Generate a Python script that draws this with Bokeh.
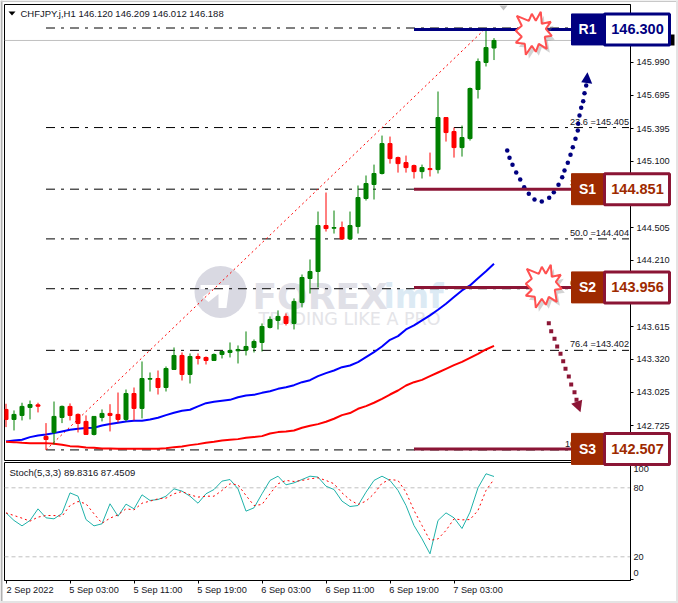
"""CHFJPY H1 chart with fibonacci levels, support/resistance tags and stochastic."""

from bokeh.core.properties import value
from bokeh.embed import file_html
from bokeh.layouts import column
from bokeh.models import (
    FixedTicker,
    Label,
    NumeralTickFormatter,
    PolyAnnotation,
    Range1d,
    Span,
)
from bokeh.plotting import figure
from bokeh.resources import INLINE

# one hourly candle per row position, 2 Sep 2022 onwards
opens = [
    142.871, 142.781, 142.817, 142.889, 142.912, 142.628, 142.664, 142.799, 142.898, 142.826,
    142.763, 142.646, 142.799, 142.835, 142.826, 142.781, 143.014, 142.880, 143.143, 143.149,
    143.068, 143.230, 143.356, 143.185, 143.347, 143.338, 143.311, 143.365, 143.383, 143.398,
    143.404, 143.428, 143.473, 143.608, 143.671, 143.707, 143.644, 143.833, 144.048, 144.111,
    144.524, 144.500, 144.506, 144.404, 144.515, 144.767, 144.893, 144.992, 145.261, 145.135,
    145.090, 145.063, 145.009, 145.036, 145.027, 145.495, 145.369, 145.225, 145.306, 145.747,
    145.990, 146.120,
]
highs = [
    142.922, 142.862, 142.931, 142.951, 142.931, 142.748, 142.942, 142.906, 142.925, 142.835,
    142.817, 142.808, 142.871, 142.918, 143.023, 143.050, 143.068, 143.302, 143.203, 143.221,
    143.257, 143.428, 143.383, 143.374, 143.374, 143.347, 143.374, 143.392, 143.473, 143.446,
    143.572, 143.500, 143.644, 143.707, 143.761, 143.734, 143.869, 144.084, 144.219, 144.650,
    144.821, 144.659, 144.560, 144.650, 144.884, 144.974, 145.072, 145.333, 145.324, 145.144,
    145.153, 145.072, 145.072, 145.180, 145.729, 145.495, 145.405, 145.423, 145.765, 146.026,
    146.277, 146.209,
]
lows = [
    142.712, 142.682, 142.772, 142.781, 142.844, 142.507, 142.556, 142.748, 142.772, 142.664,
    142.646, 142.637, 142.763, 142.673, 142.754, 142.763, 142.772, 142.790, 143.032, 143.005,
    143.032, 143.230, 143.131, 143.104, 143.275, 143.275, 143.311, 143.329, 143.338, 143.284,
    143.356, 143.383, 143.392, 143.599, 143.590, 143.626, 143.590, 143.788, 143.913, 143.967,
    144.470, 144.452, 144.395, 144.395, 144.452, 144.749, 144.758, 144.983, 145.081, 145.000,
    145.000, 144.947, 144.947, 144.965, 144.992, 145.279, 145.135, 145.144, 145.288, 145.666,
    145.954, 146.012,
]
closes = [
    142.781, 142.826, 142.898, 142.915, 142.900, 142.601, 142.808, 142.898, 142.817, 142.745,
    142.646, 142.808, 142.835, 142.817, 142.781, 143.014, 142.880, 143.149, 143.149, 143.068,
    143.239, 143.356, 143.185, 143.347, 143.329, 143.311, 143.365, 143.392, 143.401, 143.410,
    143.437, 143.482, 143.617, 143.680, 143.707, 143.644, 143.842, 144.057, 144.111, 144.524,
    144.497, 144.506, 144.404, 144.524, 144.776, 144.902, 144.992, 145.261, 145.126, 145.081,
    145.045, 145.009, 145.045, 145.027, 145.495, 145.360, 145.225, 145.315, 145.756, 145.999,
    146.124, 146.188,
]
ma_fast = [
    142.583, 142.592, 142.598, 142.622, 142.637, 142.646, 142.658, 142.673, 142.688, 142.697,
    142.703, 142.706, 142.727, 142.739, 142.751, 142.763, 142.769, 142.769, 142.781, 142.796,
    142.820, 142.841, 142.859, 142.868, 142.898, 142.927, 142.939, 142.948, 142.957, 142.981,
    142.996, 143.002, 143.020, 143.035, 143.056, 143.071, 143.089, 143.116, 143.134, 143.170,
    143.197, 143.221, 143.251, 143.266, 143.296, 143.341, 143.386, 143.437, 143.497, 143.530,
    143.590, 143.626, 143.671, 143.716, 143.767, 143.821, 143.881, 143.941, 143.986, 144.051,
    144.114, 144.180,
]
ma_slow = [
    142.580, 142.577, 142.571, 142.568, 142.568, 142.568, 142.562, 142.553, 142.541, 142.538,
    142.529, 142.526, 142.520, 142.520, 142.517, 142.517, 142.517, 142.517, 142.517, 142.517,
    142.523, 142.532, 142.538, 142.550, 142.559, 142.571, 142.580, 142.592, 142.598, 142.604,
    142.616, 142.622, 142.631, 142.655, 142.667, 142.673, 142.682, 142.706, 142.724, 142.739,
    142.760, 142.787, 142.820, 142.838, 142.877, 142.901, 142.931, 142.966, 143.005, 143.041,
    143.086, 143.116, 143.137, 143.170, 143.203, 143.236, 143.269, 143.299, 143.335, 143.371,
    143.410, 143.443,
]
stoch_k = [
    58.2, 51.6, 46.9, 51.6, 61.7, 53.9, 53.0, 57.7, 75.6, 72.7,
    52.4, 46.9, 48.7, 66.1, 55.3, 65.8, 61.7, 73.9, 69.0, 69.8,
    72.7, 79.1, 77.1, 72.7, 66.6, 74.8, 78.5, 85.8, 87.2, 79.1,
    59.7, 62.6, 74.8, 86.4, 90.1, 82.6, 84.3, 87.2, 90.1, 89.3,
    81.4, 78.5, 68.4, 63.7, 64.6, 76.2, 86.4, 90.1, 86.4, 77.7,
    64.6, 47.2, 35.6, 22.6, 51.6, 58.2, 53.9, 44.6, 58.8, 80.0,
    92.2, 89.83,
]
stoch_d = [
    58.2, 55.9, 53.6, 51.0, 54.5, 55.9, 55.9, 55.3, 64.6, 68.1,
    66.1, 57.4, 49.2, 53.6, 56.5, 61.7, 60.8, 66.6, 68.4, 70.4,
    71.0, 74.8, 76.8, 73.9, 71.9, 72.7, 72.7, 77.7, 83.5, 82.6,
    73.3, 64.6, 65.5, 74.8, 83.5, 86.4, 85.5, 86.4, 87.8, 88.7,
    86.4, 83.5, 75.6, 69.5, 65.5, 68.4, 74.8, 84.0, 87.2, 86.4,
    76.2, 60.3, 47.2, 34.2, 35.6, 42.9, 53.0, 52.1, 52.4, 60.3,
    77.7, 87.45,
]

fib_ratios = ["0.0", "23.6", "38.2", "50.0", "61.8", "76.4", "100.0"]
fib_prices = [146.300, 145.405, 144.851, 144.404, 143.956, 143.402, 142.507]
fib_start_bar = 5
fib_end_bar = 60

price_ticks = [145.990, 145.695, 145.395, 145.100, 144.505, 144.210, 143.615, 143.320, 143.025, 142.725]
time_tick_bars = [0, 8, 16, 24, 32, 40, 48, 56]
time_labels = [
    "2 Sep 2022", "5 Sep 03:00", "5 Sep 11:00", "5 Sep 19:00",
    "6 Sep 03:00", "6 Sep 11:00", "6 Sep 19:00", "7 Sep 03:00",
]

sr_names = ["R1", "S1", "S2", "S3"]
sr_values = ["146.300", "144.851", "143.956", "142.507"]
sr_drawn_at = [146.287, 144.851, 143.968, 142.516]

HEADER = "CHFJPY.j,H1  146.120 146.209 146.012 146.188"
STOCH_HEADER = "Stoch(5,3,3) 89.8316 87.4509"
LAST_CLOSE = 146.188

# hand-drawn bits, in page pixels
BLUE_ARROW = [
    (506.7, 150), (509, 157.3), (512, 164.3), (515.7, 172), (519.7, 179), (523.7, 186.7),
    (528.3, 193.3), (534, 199), (541.3, 201), (548.7, 197.3), (553.3, 191.7), (558, 184.3),
    (561.7, 176.7), (564, 170), (567.3, 162.3), (570, 154.3), (572.3, 146.7), (575, 138.3),
    (577.3, 130), (577.7, 123.3), (579, 115), (580.7, 107.3), (582.7, 100.7), (584, 92.7),
    (585.7, 85),
]
MAROON_ARROW = [
    (548.3, 322.7), (550.7, 330.7), (554, 338.3), (556.7, 346), (560, 353.3), (562.7, 360.7),
    (565, 368.3), (568.3, 376), (570.7, 384), (574, 391.7), (576, 399.3),
]
BURST = [
    (-17, -18), (-5, -13), (-2, -20), (2, -13), (7, -22), (8, -10), (17, -12), (12, -5),
    (18, 2), (11, 3), (13, 15), (5, 10), (2, 18), (-2, 12), (-8, 21), (-9, 10),
    (-18, 9), (-12, 3), (-18, -3), (-12, -8),
]
LOGO_ARROW = [
    (-20, -7), (9, -7), (6, 16), (-2, 16), (-2, 2), (-12, 10), (-18, 5), (-7, -3), (-20, -3),
]

NAVY = "#000080"
MAROON = "#8b1535"
BROWN = "#9e2a00"
UP = "#008000"
DOWN = "#ff0000"
TEXT = "#14141c"
UI_FONT = "Liberation Sans"

PAGE_W, PAGE_H = 678, 603
PRICE_PER_PX = 0.00899
FRAME_L, FRAME_R = 4, 630
BAR_PX = 8
AT_ORIGIN = {"position": "absolute", "left": "0px", "top": "0px"}


def px_to_bar(px):
    return (px - 5.5) / BAR_PX


def px_to_price(py):
    return 146.3 - (py - 27.5) * PRICE_PER_PX


def poly_px(fig, pts, fill):
    fig.add_layout(PolyAnnotation(
        xs=[p[0] for p in pts], ys=[p[1] for p in pts], xs_units="canvas", ys_units="canvas",
        fill_color=fill, fill_alpha=1, line_color=None,
    ))


main = figure(
    width=PAGE_W, height=461, output_backend="svg", toolbar_location=None,
    x_range=Range1d(px_to_bar(FRAME_L), px_to_bar(FRAME_R)),
    y_range=Range1d(px_to_price(460), px_to_price(4)),
    x_axis_location=None, y_axis_location="right",
    min_border_left=FRAME_L, min_border_right=PAGE_W - FRAME_R, min_border_top=4, min_border_bottom=1,
    background_fill_color="#ffffff", border_fill_color="#ffffff",
    outline_line_color="#000000",
)
main.grid.visible = False

axis = main.yaxis[0]
axis.ticker = FixedTicker(ticks=price_ticks)
axis.formatter = NumeralTickFormatter(format="0.000")
axis.major_tick_out = 3
axis.major_tick_in = 0
axis.minor_tick_out = 0
axis.major_label_standoff = 3
axis.axis_line_color = "#000000"
axis.major_tick_line_color = "#000000"
axis.major_label_text_font = UI_FONT
axis.major_label_text_font_size = "9.2px"
axis.major_label_text_color = TEXT

# watermark sits under everything
logo_x, logo_y = px_to_bar(220), px_to_price(291.5)
main.scatter([logo_x], [logo_y], size=52, marker="circle", color="#d9d9e2", line_color=None, level="underlay")
main.patch(
    [px_to_bar(220 + x) for x, _ in LOGO_ARROW], [px_to_price(291.5 + y) for _, y in LOGO_ARROW],
    color="#ffffff", line_color=None, level="underlay",
)
wm_font = value("DejaVu Sans")
main.text(
    [px_to_bar(252)], [px_to_price(296)], text=["FOREX"], text_font=wm_font, text_font_style="bold",
    text_font_size="36px", text_color="#e0e0e7", text_baseline="middle", level="underlay",
)
main.text(
    [px_to_bar(383)], [px_to_price(296)], text=["imf"], text_font=wm_font, text_font_style="bold",
    text_font_size="33px", text_color="#dceaf4", text_baseline="middle", level="underlay",
)
main.text(
    [px_to_bar(258)], [px_to_price(318)], text=["TRADING LIKE A PRO"], text_font=wm_font,
    text_font_size="17.5px", text_color="#e4e4e8", text_baseline="middle", level="underlay",
)

main.add_layout(Span(location=LAST_CLOSE, dimension="width", line_color="#c0c0c0", line_width=1, level="underlay"))

# fibonacci
fib_x0 = [fib_start_bar] * len(fib_prices)
fib_x1 = [px_to_bar(628.5)] * len(fib_prices)
main.segment(fib_x0, fib_prices, fib_x1, fib_prices, line_color="#000000", line_width=1, line_dash="9 6 3 6")
main.line(
    [fib_start_bar, fib_end_bar], [fib_prices[-1], fib_prices[0]],
    line_color="#ff0000", line_width=1, line_dash="2 3",
)
main.text(
    fib_x1, fib_prices, text=[f"{r} ={p:.3f}" for r, p in zip(fib_ratios, fib_prices)],
    text_font=value(UI_FONT), text_font_size="9.2px", text_color=TEXT,
    text_align="right", text_baseline="bottom", y_offset=-1,
)

# moving averages
bars = list(range(len(closes)))
main.line(bars, ma_fast, line_color="#0000ff", line_width=2)
main.line(bars, ma_slow, line_color="#ff0000", line_width=2)

# candles
up_bars = [i for i in bars if closes[i] >= opens[i]]
down_bars = [i for i in bars if closes[i] < opens[i]]
for idx, color in ((up_bars, UP), (down_bars, DOWN)):
    main.segment(
        idx, [lows[i] for i in idx], idx, [highs[i] for i in idx], line_color=color, line_width=1
    )
    main.vbar(
        x=idx, width=4 / BAR_PX,
        bottom=[min(opens[i], closes[i]) for i in idx], top=[max(opens[i], closes[i]) for i in idx],
        fill_color=color, line_color=color, line_width=1,
    )

# scenario arrows
main.scatter(
    [px_to_bar(x) for x, _ in BLUE_ARROW], [px_to_price(y) for _, y in BLUE_ARROW],
    marker="circle", size=4.5, color=NAVY, line_color=None,
)
main.scatter(
    [px_to_bar(x) for x, _ in MAROON_ARROW], [px_to_price(y) for _, y in MAROON_ARROW],
    marker="square", size=4, color=MAROON, line_color=None,
)

# support / resistance lines
sr_colors = [NAVY, MAROON, MAROON, MAROON]
main.segment(
    [51] * 4, sr_drawn_at, [px_to_bar(572)] * 4, sr_drawn_at, line_color=sr_colors, line_width=3
)

poly_px(main, [(587, 71.7), (580.7, 81.7), (591.7, 83.3)], NAVY)
poly_px(main, [(580, 411.7), (570.7, 403.3), (581.7, 399.3)], MAROON)
poly_px(main, [(499, 5), (507, 5), (503, 10)], "#c0c0c0")
poly_px(main, [(8, 11), (15, 11), (11.5, 15)], "#000000")

main.add_layout(Label(
    x=20, y=12.5, x_units="canvas", y_units="canvas", text=HEADER, text_font=UI_FONT,
    text_font_size="9.5px", text_color=TEXT, text_baseline="middle",
))

# stochastic pane
stoch = figure(
    width=PAGE_W, height=142, output_backend="svg", toolbar_location=None,
    x_range=main.x_range,
    y_range=Range1d((579.3 - 580) / 1.15, (579.3 - 462) / 1.15),
    x_axis_location="below", y_axis_location="right",
    min_border_left=FRAME_L, min_border_right=PAGE_W - FRAME_R, min_border_top=1, min_border_bottom=23,
    background_fill_color="#ffffff", border_fill_color="#ffffff",
    outline_line_color="#000000",
)
stoch.grid.visible = False

for lvl in (80, 20):
    stoch.add_layout(Span(
        location=lvl, dimension="width", line_color="#c0c0c0", line_width=1, line_dash="4 3", level="underlay"
    ))
stoch.line(bars, stoch_k, line_color="#20b2aa", line_width=1)
stoch.line(bars, stoch_d, line_color="#ff0000", line_width=1, line_dash="2 3")

s_axis = stoch.yaxis[0]
s_axis.ticker = FixedTicker(ticks=[5.5, 20, 80, 96], minor_ticks=[0, 100])
s_axis.major_label_overrides = {5.5: "0", 20: "20", 80: "80", 96: "100"}
s_axis.major_tick_out = 0
s_axis.major_tick_in = 0
s_axis.minor_tick_out = 3
s_axis.minor_tick_in = 0
s_axis.major_label_standoff = 0
s_axis.major_label_text_font = UI_FONT
s_axis.major_label_text_font_size = "9.2px"
s_axis.major_label_text_color = TEXT

t_axis = stoch.xaxis[0]
# labels start at their tick, so the centred text is moved three bars on
t_axis.ticker = FixedTicker(ticks=[t + 3 for t in time_tick_bars], minor_ticks=time_tick_bars)
t_axis.major_label_overrides = {t + 3: s for t, s in zip(time_tick_bars, time_labels)}
t_axis.major_tick_out = 0
t_axis.major_tick_in = 0
t_axis.minor_tick_out = 3
t_axis.minor_tick_in = 0
t_axis.major_label_standoff = 1
t_axis.major_label_text_font = UI_FONT
t_axis.major_label_text_font_size = "9.2px"
t_axis.major_label_text_color = TEXT

stoch.add_layout(Label(
    x=9, y=10.5, x_units="canvas", y_units="canvas", text=STOCH_HEADER, text_font=UI_FONT,
    text_font_size="9.5px", text_color=TEXT, text_baseline="middle",
))

# see-through sheet over both panes: annotations get cut at a frame, and the
# tags sit across the price axis and the pane gap. x is page pixels, y is price.
# It is its own root because a column lines up its children's frames.
sheet = figure(
    width=PAGE_W, height=PAGE_H, output_backend="svg", toolbar_location=None,
    x_range=Range1d(0, PAGE_W), y_range=Range1d(px_to_price(PAGE_H), px_to_price(0)),
    x_axis_location=None, y_axis_location=None,
    min_border_left=0, min_border_right=0, min_border_top=0, min_border_bottom=0,
    background_fill_color=None, border_fill_color=None, outline_line_color=None,
    styles=AT_ORIGIN,
)
sheet.grid.visible = False


def sheet_box(left, right, y_top, y_bottom, fill, line=None, line_width=1):
    sheet.quad(
        left=[left], right=[right], top=[px_to_price(y_top)], bottom=[px_to_price(y_bottom)],
        fill_color=fill, line_color=line, line_width=line_width,
    )


def burst(cx, cy):
    sheet.patch(
        [cx + x + 3 for x, _ in BURST], [px_to_price(cy + y + 4) for _, y in BURST],
        color="#808080", alpha=0.35, line_color=None,
    )
    sheet.patch(
        [cx + x for x, _ in BURST], [px_to_price(cy + y) for _, y in BURST],
        fill_color="#ffffff", line_color="#ff5050", line_width=2,
    )


def sr_tag(name, text, price, fill, edge, ink):
    half = 15.5 * PRICE_PER_PX
    sheet.quad(left=[571], right=[604], top=[price + half], bottom=[price - half], fill_color=fill, line_color=fill)
    sheet.quad(
        left=[604], right=[669], top=[price + half], bottom=[price - half],
        fill_color="#ffffff", line_color=edge, line_width=3,
    )
    common = dict(
        text_baseline="middle", text_align="center", text_font=value(UI_FONT), text_font_style="bold",
    )
    sheet.text([587], [price], text=[name], text_color="#ffffff", text_font_size="14px", **common)
    sheet.text([637], [price], text=[text], text_color=ink, text_font_size="14.5px", **common)


# black last-price tag, mostly hidden behind R1
sheet_box(632, 674, 34, 45, "#000000")
burst(533.3, 33.3)
burst(543.3, 286.3)
sr_tag(sr_names[0], sr_values[0], sr_drawn_at[0], NAVY, NAVY, NAVY)
for k in (1, 2, 3):
    sr_tag(sr_names[k], sr_values[k], sr_drawn_at[k], BROWN, MAROON, BROWN)

# window edge
sheet_box(0, 2, 0, PAGE_H, "#b0b0b0")
sheet_box(0, PAGE_W, 0, 1.5, "#c8c8c8")
sheet_box(675.5, PAGE_W, 0, PAGE_H, "#e4e4e4")
sheet_box(0, PAGE_W, 600.5, PAGE_H, "#e4e4e4")

panes = column(main, stoch, spacing=0, styles=AT_ORIGIN)

open("out.html", "w").write(file_html([panes, sheet], INLINE))
